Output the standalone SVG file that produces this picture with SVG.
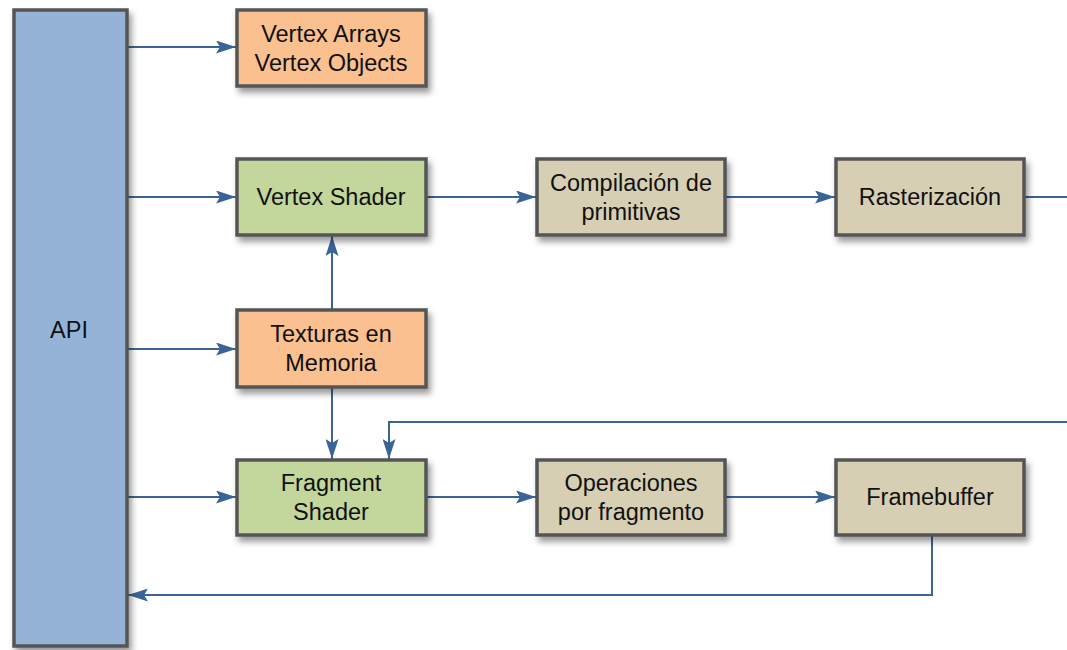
<svg xmlns="http://www.w3.org/2000/svg" width="1067" height="650" viewBox="0 0 1067 650">
  <style>
    .box { stroke: #555555; stroke-width: 3.5; filter: url(#shadow); }
    .api { fill: #95b3d7; }
    .orange { fill: #fac08f; }
    .green { fill: #c3d69b; }
    .tan { fill: #d6cfb3; }
    .label { font-family: "Liberation Sans", Arial, sans-serif; font-size: 23.5px; fill: #111111; text-anchor: middle; }
    .wire { fill: none; stroke: #3a6497; stroke-width: 2; }
    .arrow { marker-end: url(#head); }
  </style>
  <defs>
    <filter id="shadow" x="-10%" y="-10%" width="130%" height="130%">
      <feDropShadow dx="3" dy="5" stdDeviation="3" flood-color="#000" flood-opacity="0.4"/>
    </filter>
    <marker id="head" viewBox="0 0 20 13" refX="20" refY="6.5" markerWidth="20" markerHeight="13" markerUnits="userSpaceOnUse" orient="auto">
      <path d="M0,0 L20,6.5 L0,13 L4,6.5 Z" fill="#3a6497"/>
    </marker>
  </defs>

  <rect width="1067" height="650" fill="#ffffff"/>

  <!-- connectors -->
  <g id="connectors">
    <path class="wire arrow" d="M127,47 H236"/>
    <path class="wire arrow" d="M127,197 H236"/>
    <path class="wire arrow" d="M127,349 H236"/>
    <path class="wire arrow" d="M127,497 H236"/>
    <path class="wire arrow" d="M426,197 H536"/>
    <path class="wire arrow" d="M725,197 H835"/>
    <path class="wire" d="M1024,197 H1067"/>
    <path class="wire arrow" d="M332,310 V236"/>
    <path class="wire arrow" d="M332,387 V459"/>
    <path class="wire arrow" d="M1067,422 H389 V459"/>
    <path class="wire arrow" d="M426,497 H536"/>
    <path class="wire arrow" d="M725,497 H835"/>
    <path class="wire arrow" d="M932,535 V595 H128"/>
  </g>

  <!-- nodes -->
  <g id="api">
    <rect class="box api" x="14" y="10" width="113" height="636"/>
    <text class="label" x="69" y="338">API</text>
  </g>
  <g id="vertex-arrays">
    <rect class="box orange" x="237" y="10" width="189" height="76"/>
    <text class="label" x="331" y="42">Vertex Arrays</text>
    <text class="label" x="331" y="71">Vertex Objects</text>
  </g>
  <g id="vertex-shader">
    <rect class="box green" x="237" y="159" width="189" height="76"/>
    <text class="label" x="331" y="205">Vertex Shader</text>
  </g>
  <g id="compilacion">
    <rect class="box tan" x="537" y="159" width="188" height="76"/>
    <text class="label" x="631" y="191">Compilación de</text>
    <text class="label" x="631" y="220">primitivas</text>
  </g>
  <g id="rasterizacion">
    <rect class="box tan" x="836" y="159" width="188" height="76"/>
    <text class="label" x="930" y="205">Rasterización</text>
  </g>
  <g id="texturas">
    <rect class="box orange" x="237" y="310" width="189" height="77"/>
    <text class="label" x="331" y="342">Texturas en</text>
    <text class="label" x="331" y="371">Memoria</text>
  </g>
  <g id="fragment-shader">
    <rect class="box green" x="237" y="460" width="189" height="75"/>
    <text class="label" x="331" y="491">Fragment</text>
    <text class="label" x="331" y="520">Shader</text>
  </g>
  <g id="operaciones">
    <rect class="box tan" x="537" y="460" width="188" height="75"/>
    <text class="label" x="631" y="491">Operaciones</text>
    <text class="label" x="631" y="520">por fragmento</text>
  </g>
  <g id="framebuffer">
    <rect class="box tan" x="836" y="460" width="188" height="75"/>
    <text class="label" x="930" y="505">Framebuffer</text>
  </g>
</svg>
